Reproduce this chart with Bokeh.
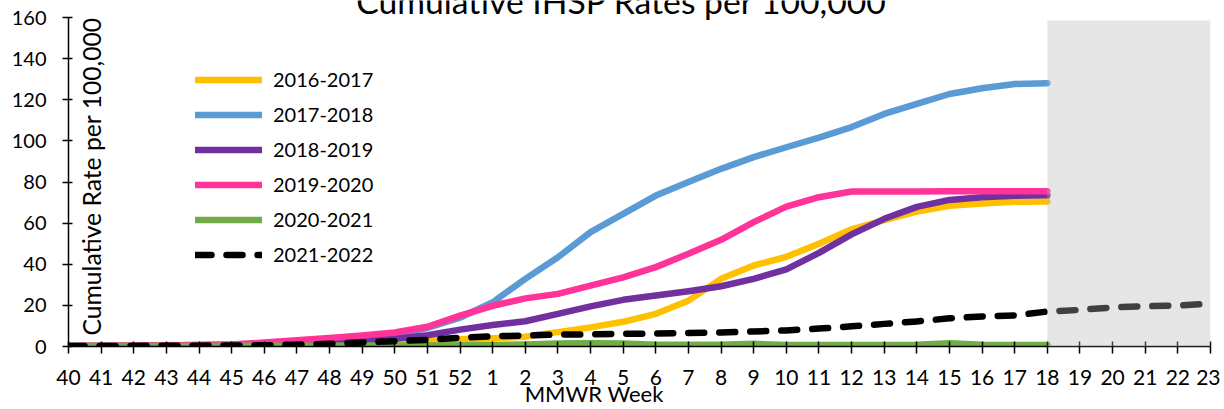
import math
from bokeh.plotting import figure
from bokeh.models import (Legend, LegendItem, Label, BoxAnnotation, FixedTicker,
                          Range1d)
from bokeh.embed import file_html
from bokeh.resources import INLINE

# ---------------- data ----------------
weeks = [str(w) for w in range(40, 53)] + [str(w) for w in range(1, 24)]

s2016_2017 = [0.1, 0.2, 0.3, 0.4, 0.5, 0.6, 0.8, 1.0, 1.3, 1.7, 2.2, 2.8, 3.5,
              4.0, 4.8, 7.0, 9.3, 12.0, 15.9, 22.3, 32.9, 39.4, 43.6, 50.0, 57.0,
              61.5, 65.6, 68.4, 69.6, 70.4, 70.5]
s2017_2018 = [0.2, 0.3, 0.4, 0.5, 0.7, 1.0, 1.5, 2.3, 3.2, 4.5, 6.0, 9.0, 14.0,
              21.5, 32.9, 43.4, 55.6, 64.5, 73.4, 80.0, 86.4, 92.1, 96.9, 101.6,
              106.7, 113.1, 118.0, 122.8, 125.6, 127.7, 128.0]
s2018_2019 = [0.2, 0.3, 0.3, 0.4, 0.5, 0.6, 0.9, 1.3, 1.9, 2.7, 3.8, 5.5, 8.2,
              10.5, 12.3, 15.9, 19.5, 22.7, 24.8, 26.9, 29.3, 32.9, 37.5, 45.5,
              54.5, 62.1, 67.9, 71.3, 72.6, 73.3, 73.5]
s2019_2020 = [0.3, 0.4, 0.5, 0.6, 0.7, 1.0, 1.9, 3.0, 4.1, 5.3, 6.8, 9.6, 15.0,
              19.8, 23.4, 25.6, 29.6, 33.6, 38.6, 45.1, 51.9, 60.5, 68.0, 72.6,
              75.4, 75.4, 75.4, 75.5, 75.5, 75.5, 75.5]
s2020_2021 = [0.2, 0.2, 0.3, 0.3, 0.3, 0.3, 0.4, 0.4, 0.4, 0.5, 0.5, 0.5, 0.6,
              0.7, 1.0, 1.4, 1.6, 1.5, 0.9, 0.8, 0.8, 1.3, 0.7, 0.7, 0.7, 0.7,
              0.8, 1.6, 0.8, 0.7, 0.7]
s2021_2022 = [0.3, 0.3, 0.3, 0.4, 0.4, 0.5, 0.6, 0.9, 1.3, 2.0, 2.6, 3.2, 4.2,
              5.0, 5.3, 5.8, 5.9, 6.2, 6.3, 6.6, 6.8, 7.3, 7.8, 8.7, 9.8, 11.0,
              12.2, 13.7, 14.6, 15.1, 17.0, 17.8, 19.0, 19.6, 19.9, 20.8]

season_names = ["2016-2017", "2017-2018", "2018-2019", "2019-2020",
                "2020-2021", "2021-2022"]
season_values = [s2016_2017, s2017_2018, s2018_2019, s2019_2020,
                 s2020_2021, s2021_2022]
season_colors = ["#FFC000", "#5B9BD5", "#7030A0", "#FF3399", "#70AD47", "#000000"]

y_ticks = list(range(0, 161, 20))
shade_from_week = "18"

TITLE = "Cumulative IHSP Rates per 100,000"
Y_LABEL = "Cumulative Rate per 100,000"
X_LABEL = "MMWR Week"

FONT = "Lato"

# ---------------- figure ----------------
n = len(weeks)
W, H = 1220, 409
p = figure(width=W, height=H, output_backend="svg", toolbar_location=None,
           x_range=Range1d(0, n - 1), y_range=Range1d(0, 168.27),
           min_border_left=68, min_border_right=10, min_border_top=0,
           min_border_bottom=63)
p.outline_line_color = None
p.grid.visible = False
p.background_fill_color = "white"

renderers = []
for name, vals, col in zip(season_names, season_values, season_colors):
    xs = list(range(len(vals)))
    if name == "2021-2022":
        r = p.line(xs, vals, line_color=col, line_width=6.5, line_dash="16 15",
                   line_cap="round", line_join="round")
    else:
        r = p.line(xs, vals, line_color=col, line_width=6.5,
                   line_cap="round", line_join="round")
    renderers.append((name, r))

# shaded future region (overlay that greys what is below it)
shade = BoxAnnotation(left=weeks.index(shade_from_week), right=n - 1,
                      bottom=-3.5, top=158.5, fill_color="#B7B7B7",
                      fill_alpha=0.35, line_color=None, level="overlay")
p.add_layout(shade)

# axes
p.xaxis.ticker = FixedTicker(ticks=list(range(n)))
p.xaxis.major_label_overrides = {i: w for i, w in enumerate(weeks)}
p.yaxis.ticker = FixedTicker(ticks=y_ticks)
p.yaxis.bounds = (0, 160)
for ax in (p.xaxis, p.yaxis):
    ax.axis_line_color = "black"
    ax.axis_line_width = 1.5
    ax.major_tick_line_color = "black"
    ax.major_tick_line_width = 1.5
    ax.minor_tick_line_color = None
    ax.major_label_text_font = FONT
    ax.major_label_text_color = "black"
p.xaxis.major_label_text_font_size = "21px"
p.yaxis.major_label_text_font_size = "20px"
p.xaxis.major_tick_in = 5
p.xaxis.major_tick_out = 7
p.xaxis.major_label_standoff = 16
p.yaxis.major_tick_in = 4
p.yaxis.major_tick_out = 6
p.yaxis.major_label_standoff = 16

# x axis title (padded on the right so that it sits left of centre)
p.xaxis.axis_label = X_LABEL + "\u2003" * 5 + "\u2009" * 3
p.xaxis.axis_label_text_font = FONT
p.xaxis.axis_label_text_font_size = "22px"
p.xaxis.axis_label_text_font_style = "normal"
p.xaxis.axis_label_text_color = "black"
p.xaxis.axis_label_standoff = -8

# legend
legend = Legend(items=[LegendItem(label=nm, renderers=[r]) for nm, r in renderers],
                location=(127, 80), orientation="vertical",
                glyph_width=67, glyph_height=21, label_height=21, spacing=11,
                label_standoff=11, padding=0, margin=0,
                border_line_color=None, background_fill_alpha=0,
                label_text_font=FONT, label_text_font_size="20px",
                label_text_color="black")
p.add_layout(legend)

# chart title (cropped at the top, as in the original) and y axis title
p.add_layout(Label(x=16.96, y=168.0, text=TITLE,
                   text_align="center", text_baseline="middle",
                   text_font=FONT, text_font_size="33.7px", text_color="black"))
p.add_layout(Label(x=0.7, y=82.7, text=Y_LABEL,
                   angle=math.pi / 2, text_align="center", text_baseline="middle",
                   text_font=FONT, text_font_size="24.7px", text_color="black"))

open("out.html", "w").write(file_html(p, INLINE))
